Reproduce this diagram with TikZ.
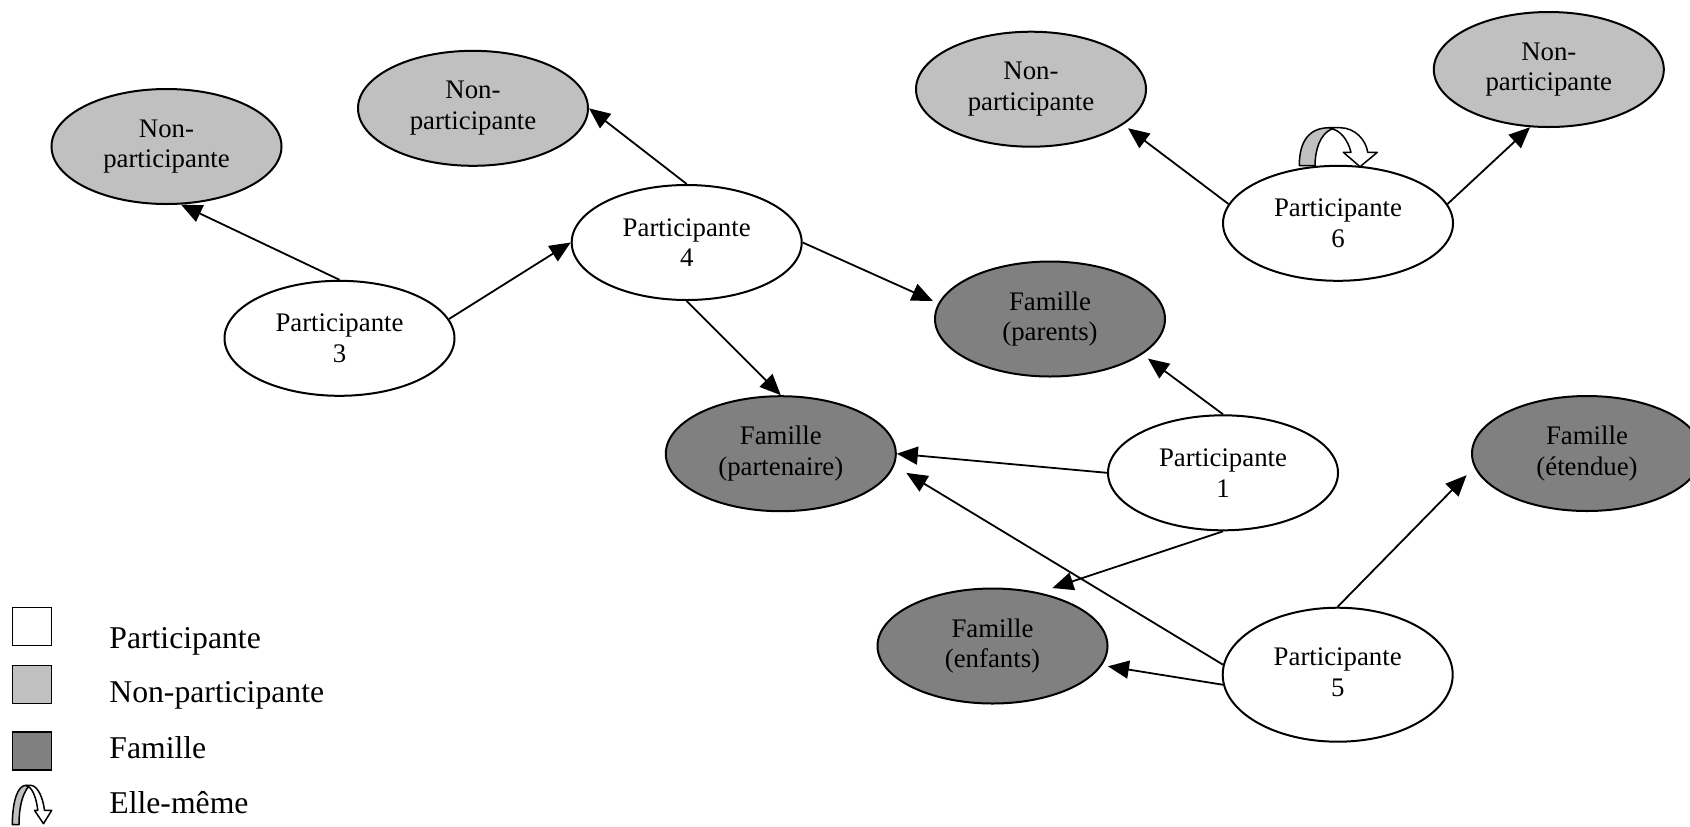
\documentclass[tikz,border=0pt]{standalone}
\usepackage{fontspec}
\setmainfont{Liberation Serif}
\usetikzlibrary{shapes.geometric, arrows.meta}
\definecolor{npgray}{RGB}{192,192,192}
\definecolor{famgray}{RGB}{128,128,128}
\begin{document}
\begin{tikzpicture}[x=0.5pt, y=-0.5pt,
  ell/.style={ellipse, draw=black, line width=1pt, minimum width=115pt, minimum height=57.5pt, inner sep=0pt, align=center, font=\fontsize{13.4}{15.35}\selectfont},
  part/.style={ell, fill=white},
  nonp/.style={ell, fill=npgray},
  fam/.style={ell, fill=famgray},
  arr/.style={-{Triangle[length=10.5pt,width=9pt]}, line width=0.9pt},
  legbox/.style={draw=black, line width=0.75pt, minimum width=19.5pt, minimum height=19.2pt, inner sep=0pt},
  legtext/.style={anchor=base west, inner sep=0pt, font=\fontsize{15.85}{19}\selectfont},
  selfpart/.style={draw=black, line width=0.75pt, line join=round}
]
\useasboundingbox (0,0) rectangle (1690,826);
\clip (0,0) rectangle (1690,826);

% nodes
\node[nonp] (np1) at (166.5,146.5) {Non-\\participante};
\node[nonp] (np2) at (473,108.3) {Non-\\participante};
\node[nonp] (np3) at (1031,89.2) {Non-\\participante};
\node[nonp] (np4) at (1548.8,69.5) {Non-\\participante};
\node[part] (p3) at (339.5,338.3) {Participante\\3};
\node[part] (p4) at (686.7,242.5) {Participante\\4};
\node[part] (p6) at (1338,223.3) {Participante\\6};
\node[fam] (fpar) at (1050,319) {Famille\\(parents)};
\node[fam] (fpart) at (780.8,453.7) {Famille\\(partenaire)};
\node[part] (p1) at (1223,472.8) {Participante\\1};
\node[fam] (fet) at (1587,453.5) {Famille\\(étendue)};
\node[fam] (fenf) at (992.5,646) {Famille\\(enfants)};
\node[part, minimum height=67pt] (p5) at (1337.7,674.7) {\raisebox{4pt}{\begin{tabular}{@{}c@{}}Participante\\5\end{tabular}}};

% connectors
\draw[arr] (p3.north) -- (np1.-76);
\draw[arr] (p3.10) -- (p4.west);
\draw[arr] (p4.north) -- (np2.east);
\draw[arr, shorten >=3pt] (p4.east) -- (fpar.172);
\draw[arr] (p4.south) -- (fpart.north);
\draw[arr, shorten >=3.5pt] (p1.north) -- (fpar.-21);
\draw[arr] (p1.west) -- (fpart.east);
\draw[arr, shorten >=7pt] (p1.south) -- (fenf.49);
\draw[arr, shorten >=7pt] (p5.175) -- (fpart.-6);
\draw[arr, shorten >=3pt] (p5.185) -- (fenf.-10);
\draw[arr, shorten >=5.5pt] (p5.north) -- (fet.-173);
\draw[arr, shorten >=3pt] (p6.170) -- (np3.-21);
\draw[arr] (p6.10) -- (np4.-108);

% self loop on Participante 6
\draw[selfpart, fill=npgray] (1299.3,165.5) .. controls (1299.3,140) and (1310,127.7) .. (1329.5,127.7)
  -- (1331.7,129) .. controls (1320,134) and (1315,150) .. (1315,165.7) -- cycle;
\draw[selfpart, fill=white] (1329.5,127.7) -- (1340,127.7) .. controls (1355,127.7) and (1366,140) .. (1367.7,152.3)
  -- (1377.3,152.3) -- (1360,166.7) -- (1343.3,152.3) -- (1351,152.3)
  .. controls (1348,140) and (1340,130) .. (1331.7,129) -- cycle;

% legend
\node[legbox, fill=white] (lb1) at (32.2,626.5) {};
\node[legbox, fill=npgray] (lb2) at (32.2,684.5) {};
\node[legbox, fill=famgray] (lb3) at (32.2,751) {};
\draw[selfpart, fill=npgray] (12.3,824.7) .. controls (12.5,800) and (18,785.3) .. (26,785.3)
  -- (28.3,786.7) .. controls (22,795) and (19,808) .. (19,824.7) -- cycle;
\draw[selfpart, fill=white] (26,785.3) -- (31,785.3) .. controls (38,786) and (43,798) .. (44.5,810.3)
  -- (51.7,810.3) -- (43.5,823.7) -- (34.5,810.3) -- (37.8,810.3)
  .. controls (36.5,799) and (33,789) .. (28.3,786.7) -- cycle;
\node[legtext] (lt1) at (109,648.5) {Participante};
\node[legtext] (lt2) at (109,702) {Non-participante};
\node[legtext] (lt3) at (109,758) {Famille};
\node[legtext] (lt4) at (109,813.5) {Elle-même};
\end{tikzpicture}
\end{document}
